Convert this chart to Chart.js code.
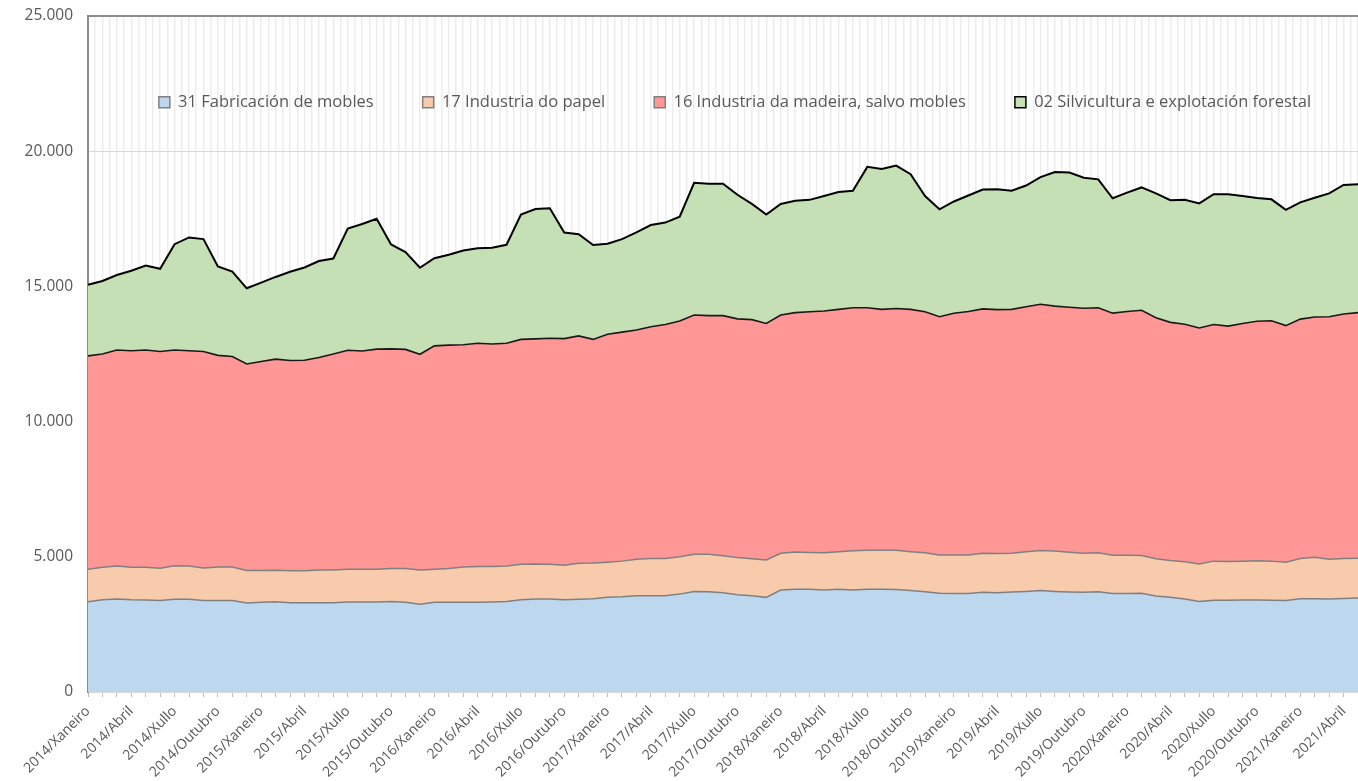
<!DOCTYPE html>
<html>
<head>
<meta charset="utf-8">
<script src="https://cdn.jsdelivr.net/npm/chart.js@4.4.1/dist/chart.umd.min.js"></script>
<style>
  html, body { margin: 0; padding: 0; background: #ffffff; }
  #c { display: block; }
</style>
</head>
<body>
<canvas id="c" width="1358" height="781"></canvas>
<script>
// ---- DATA ----
const years = [2014, 2015, 2016, 2017, 2018, 2019, 2020, 2021];
const monthNames = ['Xaneiro', 'Febreiro', 'Marzo', 'Abril', 'Maio', 'Xuño', 'Xullo', 'Agosto', 'Setembro', 'Outubro', 'Novembro', 'Decembro'];
const monthCount = 89; // 2014/Xaneiro .. 2021/Maio

const seriesNames = [
  '31 Fabricación de mobles',
  '17 Industria do papel',
  '16 Industria da madeira, salvo mobles',
  '02 Silvicultura e explotación forestal'
];

const mobles = [3340,3410,3440,3410,3400,3380,3430,3430,3380,3380,3380,3290,3320,3340,3300,3300,3300,3300,3330,3330,3330,3350,3320,3250,3320,3320,3320,3320,3330,3350,3410,3440,3440,3410,3430,3450,3500,3520,3560,3560,3560,3620,3720,3710,3670,3600,3560,3500,3770,3800,3800,3770,3800,3770,3800,3800,3790,3750,3710,3650,3640,3640,3690,3670,3700,3720,3750,3720,3700,3690,3710,3640,3640,3650,3550,3500,3440,3350,3390,3390,3400,3400,3390,3380,3450,3450,3440,3460,3480];

const papel = [1200,1200,1220,1200,1210,1200,1240,1230,1210,1240,1240,1200,1170,1160,1180,1180,1210,1210,1210,1210,1210,1220,1250,1260,1220,1250,1300,1320,1310,1310,1310,1290,1280,1280,1330,1320,1300,1320,1350,1380,1380,1380,1370,1380,1370,1370,1370,1380,1360,1380,1360,1380,1390,1450,1440,1440,1450,1440,1440,1420,1430,1430,1440,1450,1430,1470,1480,1490,1470,1440,1440,1420,1420,1400,1380,1360,1380,1380,1450,1440,1440,1450,1450,1420,1490,1530,1470,1480,1470];

const madeira = [7890,7890,7990,8010,8040,8010,7980,7960,8000,7830,7790,7640,7730,7810,7780,7790,7860,7990,8100,8070,8140,8120,8100,7980,8260,8260,8220,8260,8230,8240,8320,8330,8360,8380,8410,8270,8430,8470,8480,8570,8650,8720,8850,8830,8880,8830,8840,8750,8810,8850,8900,8940,8960,8990,8970,8910,8940,8960,8910,8810,8940,9000,9040,9020,9020,9060,9110,9060,9060,9060,9060,8950,9010,9070,8910,8810,8780,8730,8750,8700,8790,8860,8890,8750,8850,8890,8970,9040,9080];

const silvicultura = [2630,2700,2770,2960,3120,3060,3910,4190,4160,3290,3140,2800,2920,3040,3280,3430,3570,3530,4500,4700,4820,3860,3600,3200,3240,3340,3490,3510,3560,3640,4620,4800,4810,3920,3760,3490,3350,3440,3610,3760,3770,3860,4890,4880,4880,4590,4280,4030,4110,4140,4140,4250,4340,4330,5210,5190,5290,5000,4280,3970,4130,4290,4410,4450,4390,4480,4700,4960,4980,4830,4750,4250,4400,4540,4600,4520,4600,4610,4820,4880,4710,4560,4490,4280,4320,4410,4560,4770,4750];

const yTicks = [0, 5000, 10000, 15000, 20000, 25000];

// categories built from the year and month lists
const categories = [];
years.forEach(y => monthNames.forEach(m => categories.push(y + '/' + m)));
categories.length = monthCount;

// ---- STYLE ----
const fillColors = ['#BDD7EE', '#F8CBAD', '#FF9797', '#C5E0B4'];
const lineColors = ['#808080', '#808080', '#1a1a1a', '#000000'];
const legendStroke = ['#808080', '#808080', '#808080', '#000000'];
const lineWidths = [1.5, 1.5, 1.6, 2];
const textColor = '#595959';

function fmt(v) {
  return String(v).replace(/\B(?=(\d{3})+(?!\d))/g, '.');
}

const values = [mobles, papel, madeira, silvicultura];
const datasets = values.map((arr, k) => ({
  label: seriesNames[k],
  data: arr,
  backgroundColor: fillColors[k],
  borderColor: lineColors[k],
  borderWidth: lineWidths[k],
  fill: k === 0 ? 'origin' : '-1',
  pointRadius: 0,
  pointHoverRadius: 0,
  tension: 0,
  xAxisID: 'x',
  yAxisID: 'y'
}));

// Legend drawn by Chart.js, but placed inside the plot area like the reference
const legendInside = {
  id: 'legendInside',
  afterInit(chart) {
    const lg = chart.legend;
    const origFit = lg.fit.bind(lg);
    lg.fit = function () {
      this.maxWidth = 3000;
      origFit();
      this._realHeight = this.height;
      this.height = 0;
    };
  },
  afterLayout(chart) {
    const lg = chart.legend;
    const h = lg._realHeight || 40;
    lg.left = 50; lg.right = 1420; lg.width = lg.right - lg.left;
    lg.top = 45; lg.bottom = lg.top + h; lg.height = h;
  }
};

new Chart(document.getElementById('c'), {
  type: 'line',
  data: { labels: categories, datasets },
  plugins: [legendInside],
  options: {
    responsive: false,
    animation: false,
    devicePixelRatio: 1,
    layout: { padding: { top: 16, right: -4, bottom: 0, left: 0 } },
    plugins: {
      tooltip: { enabled: false },
      legend: {
        display: true,
        position: 'top',
        align: 'center',
        labels: {
          boxWidth: 11,
          boxHeight: 11,
          padding: 49,
          color: textColor,
          font: { family: 'Open Sans', size: 16.5 },
          generateLabels(chart) {
            const items = Chart.defaults.plugins.legend.labels.generateLabels(chart);
            items.forEach((it, k) => { it.strokeStyle = legendStroke[k]; it.lineWidth = 1.5; });
            return items;
          }
        }
      }
    },
    scales: {
      x: {
        type: 'category',
        position: 'bottom',
        offset: false,
        grid: {
          display: true,
          drawOnChartArea: false,
          drawTicks: true,
          tickLength: 5,
          color: '#BFBFBF',
          lineWidth: 1
        },
        border: { display: true, color: '#D9D9D9', width: 2 },
        ticks: {
          autoSkip: false,
          minRotation: 45,
          maxRotation: 45,
          padding: 6,
          color: textColor,
          font: { family: 'Open Sans', size: 14 },
          callback: (v, i) => (i % 3 === 0 ? categories[i] : '')
        },
        afterFit(scale) {
          scale.height = 89;
          scale.paddingLeft = 0;
          scale.paddingRight = 0;
        }
      },
      x2: {
        type: 'linear',
        position: 'top',
        min: 0,
        max: monthCount - 1,
        grid: {
          display: true,
          drawOnChartArea: true,
          drawTicks: false,
          color: '#EDEDED',
          lineWidth: 1.5
        },
        border: { display: true, color: '#8C8C8C', width: 2 },
        ticks: { display: false, stepSize: 0.5, maxTicksLimit: 1000 },
        afterFit(scale) {
          scale.height = 0;
          scale.paddingLeft = 0;
          scale.paddingRight = 0;
        }
      },
      y: {
        type: 'linear',
        position: 'left',
        stacked: true,
        min: 0,
        max: 25000,
        grid: { color: '#D9D9D9', lineWidth: 1, drawTicks: false },
        border: { display: true, color: '#8C8C8C', width: 2 },
        afterBuildTicks(scale) {
          scale.ticks = yTicks.map(v => ({ value: v }));
        },
        ticks: {
          padding: 15,
          color: textColor,
          font: { family: 'Open Sans', size: 15.5 },
          callback: (v) => fmt(v)
        },
        afterFit(scale) {
          scale.width = 88;
          scale.paddingTop = 0;
          scale.paddingBottom = 0;
        }
      }
    }
  }
});
</script>
</body>
</html>
